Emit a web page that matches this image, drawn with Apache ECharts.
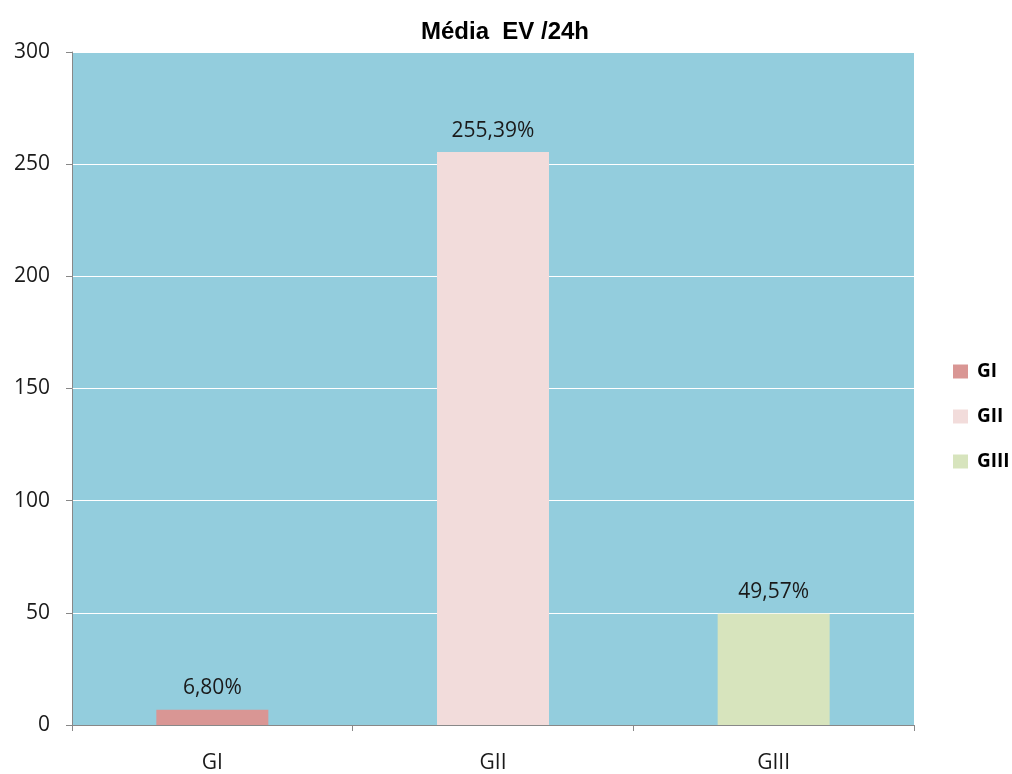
<!DOCTYPE html>
<html>
<head>
<meta charset="utf-8">
<script src="https://cdn.jsdelivr.net/npm/echarts@6/dist/echarts.min.js"></script>
<style>
  html, body { margin: 0; padding: 0; background: #fff; }
  #chart { width: 1012px; height: 774px; }
</style>
</head>
<body>
<div id="chart"></div>
<script>
// dados
const categories = ['GI', 'GII', 'GIII'];
const values = [6.8, 255.39, 49.57];
const labels = ['6,80%', '255,39%', '49,57%'];
const colors = ['#D99694', '#F2DCDB', '#D7E4BD'];
const yTicks = [0, 50, 100, 150, 200, 250, 300];

const chart = echarts.init(document.getElementById('chart'));

// uma série por grupo para que a legenda tenha uma cor por barra
const series = categories.map((name, i) => ({
  name: name,
  type: 'bar',
  stack: 'total',
  barWidth: 112,
  data: categories.map((_, j) => (j === i ? values[i] : null)),
  itemStyle: { color: colors[i] },
  label: {
    show: true,
    position: 'top',
    distance: 11,
    formatter: () => labels[i],
    color: '#1a1a1a',
    fontSize: 21,
    fontFamily: 'Open Sans',
  },
}));

chart.setOption({
  animation: false,
  title: {
    text: 'Média  EV /24h',
    left: 500,
    textAlign: 'center',
    top: 15,
    textStyle: { fontSize: 24, fontWeight: 'bold', color: '#000', fontFamily: 'Liberation Sans' },
  },
  legend: {
    orient: 'vertical',
    left: 953,
    top: 362,
    padding: 0,
    itemWidth: 15,
    itemHeight: 14,
    itemGap: 26,
    icon: 'rect',
    textStyle: { fontSize: 19, fontWeight: 'bold', color: '#000', fontFamily: 'Open Sans', padding: [0, 0, 0, 4] },
    data: categories,
  },
  grid: {
    left: 72,
    right: 98,
    top: 52,
    bottom: 49,
    show: true,
    backgroundColor: '#93CDDD',
    borderWidth: 0,
  },
  xAxis: {
    type: 'category',
    data: categories,
    axisLine: { lineStyle: { color: '#888', width: 1 } },
    axisTick: { show: true, alignWithLabel: false, length: 6, lineStyle: { color: '#888' } },
    axisLabel: { color: '#1a1a1a', fontSize: 21, margin: 28, fontFamily: 'Open Sans' },
  },
  yAxis: {
    type: 'value',
    min: yTicks[0],
    max: yTicks[yTicks.length - 1],
    interval: 50,
    axisLine: { show: true, lineStyle: { color: '#888', width: 1 } },
    axisTick: { show: true, length: 6, lineStyle: { color: '#888' } },
    axisLabel: { color: '#1a1a1a', fontSize: 21, margin: 22, fontFamily: 'Open Sans' },
    splitLine: { show: true, lineStyle: { color: '#fff', width: 1 } },
  },
  series: series,
});
</script>
</body>
</html>
